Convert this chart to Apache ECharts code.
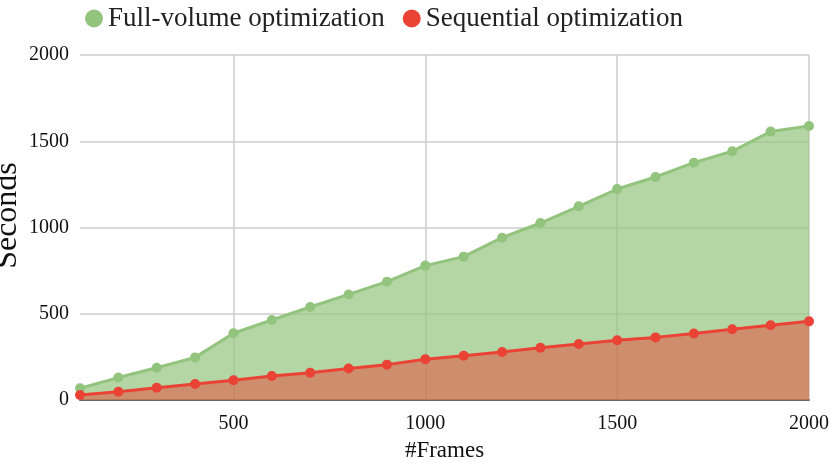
<!DOCTYPE html>
<html>
<head>
<meta charset="utf-8">
<script src="https://cdn.jsdelivr.net/npm/echarts@6/dist/echarts.min.js"></script>
<style>
  html, body { margin: 0; padding: 0; background: #fff; }
  #chart { width: 830px; height: 465px; }
</style>
</head>
<body>
<div id="chart"></div>
<script>
var frames = [100, 200, 300, 400, 500, 600, 700, 800, 900, 1000,
              1100, 1200, 1300, 1400, 1500, 1600, 1700, 1800, 1900, 2000];
var fullVolume = [68, 130, 187, 247, 387, 464, 539, 612, 686, 779,
                  831, 941, 1026, 1123, 1223, 1293, 1376, 1442, 1556, 1588];
var sequential = [29, 48, 71, 93, 114, 139, 158, 183, 205, 236,
                  257, 278, 303, 325, 346, 363, 386, 410, 433, 456];

var serif = "'Liberation Serif', 'DejaVu Serif', serif";

function pairs(xs, ys) {
    return xs.map(function (x, i) { return [x, ys[i]]; });
}

var myChart = echarts.init(document.getElementById('chart'));
var option = {
    animation: false,
    textStyle: { fontFamily: serif },
    legend: {
        left: 80,
        top: 0,
        itemWidth: 18,
        itemHeight: 18,
        itemGap: 18,
        icon: 'circle',
        textStyle: { fontFamily: serif, fontSize: 27, color: '#222' },
        data: ['Full-volume optimization', 'Sequential optimization']
    },
    grid: {
        left: 80,
        right: 21,
        top: 55,
        bottom: 65,
        outerBoundsMode: 'none'
    },
    xAxis: {
        type: 'value',
        min: 100,
        max: 2000,
        splitNumber: 4,
        name: '#Frames',
        nameLocation: 'middle',
        nameGap: 39,
        nameMoveOverlap: false,
        nameTextStyle: { fontFamily: serif, fontSize: 23, color: '#111' },
        axisLabel: {
            fontFamily: serif, fontSize: 20, color: '#111', margin: 14,
            showMinLabel: false,
            formatter: function (v) { return String(v); }
        },
        axisTick: { show: false },
        axisLine: { lineStyle: { color: '#666', width: 2 } },
        splitLine: {
            show: true,
            showMinLine: false,
            lineStyle: { color: '#ccc', width: 1.5 }
        }
    },
    yAxis: {
        type: 'value',
        min: 0,
        max: 2000,
        interval: 500,
        name: 'Seconds',
        nameLocation: 'middle',
        nameGap: 56,
        nameMoveOverlap: false,
        nameTextStyle: {
            fontFamily: serif, fontSize: 32, color: '#111',
            padding: [0, 0, 0, 24]
        },
        axisLabel: {
            fontFamily: serif, fontSize: 20, color: '#111', margin: 11,
            formatter: function (v) { return String(v); }
        },
        axisTick: { show: false },
        axisLine: { show: false },
        splitLine: { lineStyle: { color: '#ccc', width: 1.5 } }
    },
    series: [{
        name: 'Full-volume optimization',
        type: 'line',
        symbol: 'circle',
        symbolSize: 10,
        showAllSymbol: true,
        lineStyle: { color: '#93c47d', width: 3 },
        itemStyle: { color: '#93c47d' },
        areaStyle: { color: '#93c47d', opacity: 0.7 },
        data: pairs(frames, fullVolume)
    }, {
        name: 'Sequential optimization',
        type: 'line',
        symbol: 'circle',
        symbolSize: 10,
        showAllSymbol: true,
        lineStyle: { color: '#ea4335', width: 3 },
        itemStyle: { color: '#ea4335' },
        areaStyle: { color: '#ea4335', opacity: 0.5 },
        data: pairs(frames, sequential)
    }]
};
myChart.setOption(option, true);
</script>
</body>
</html>
